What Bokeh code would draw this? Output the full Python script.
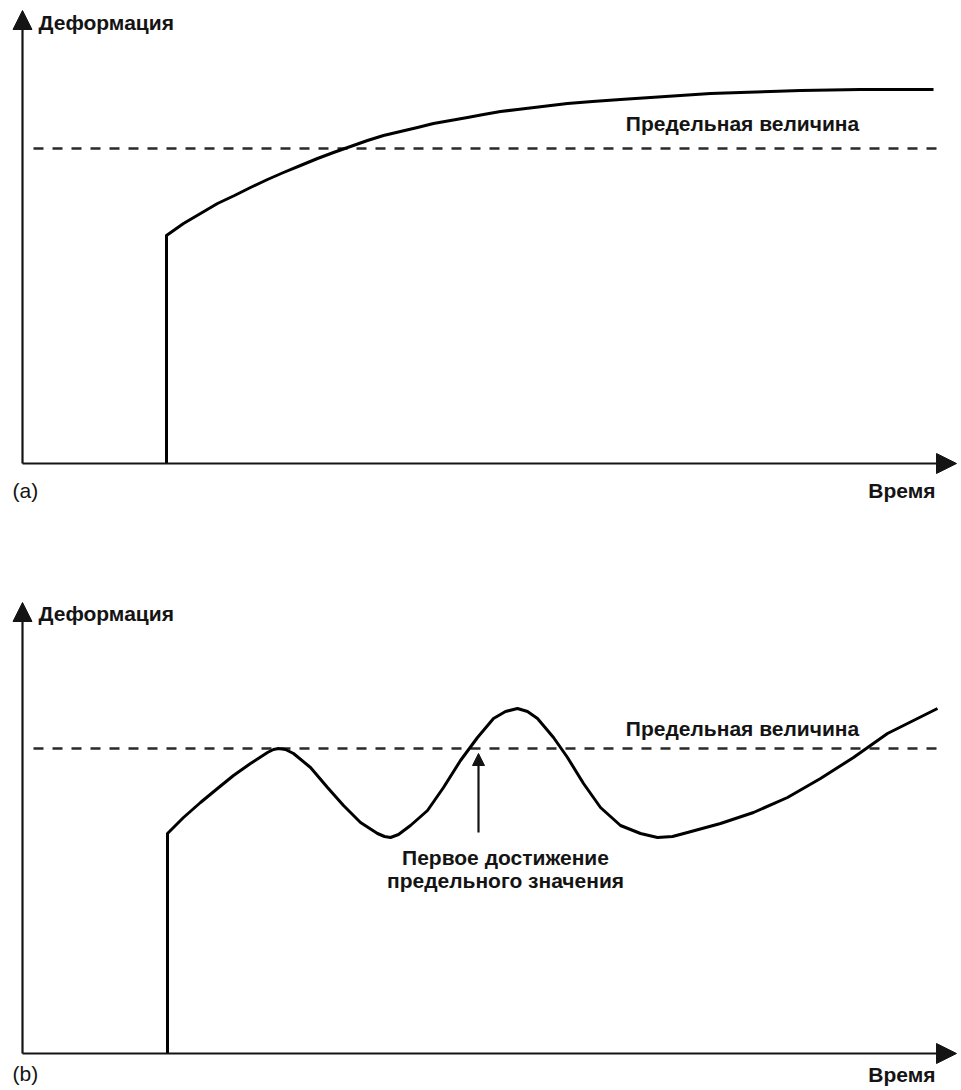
from bokeh.plotting import figure
from bokeh.layouts import column
from bokeh.models import Range1d, Arrow, NormalHead
from bokeh.core.properties import value
from bokeh.embed import file_html
from bokeh.resources import INLINE

# ---------------- data (time / deformation, arbitrary units) ----------------
# Panel (a): creep curve approaching a plateau
time_a = [144, 144, 161, 178, 195, 212, 228, 245, 261, 278, 295, 311, 328, 345,
          361, 378, 395, 411, 428, 445, 461, 478, 495, 520, 545, 570, 598, 628,
          658, 688, 718, 748, 778, 808, 838, 875, 911]
deform_a = [0, 228, 240, 250, 260, 268, 276, 284, 291, 298, 305, 311, 317, 323,
            328, 332, 336, 340, 343, 346, 349, 352, 354, 357, 360, 362, 364, 366,
            368, 370, 371, 372, 373, 373.5, 374, 374, 374]
limit_a = 315

# Panel (b): oscillating curve
time_b = [145, 145, 161, 178, 195, 211, 228, 245, 251, 256, 263, 271, 288, 305,
          321, 338, 355, 362, 368, 376, 388, 405, 421, 438, 455, 471, 483, 495,
          505, 515, 531, 545, 561, 578, 598, 618, 635, 650, 665, 698, 731, 765,
          798, 831, 865, 915]
deform_b = [0, 220, 236, 251, 265, 278, 290, 301, 304, 305, 304, 300, 286, 266,
            248, 231, 220, 217, 216, 219, 228, 243, 266, 293, 316, 335, 342, 345,
            342, 335, 316, 296, 270, 246, 228, 220, 216, 217, 221, 230, 241, 256,
            275, 296, 320, 345]
limit_b = 305
first_reach_time = 456

y_label = "Деформация"
x_label = "Время"
limit_label = "Предельная величина"
first_reach_label = ["Первое достижение", "предельного значения"]
panel_tags = ["(a)", "(b)"]

FONT = value("Liberation Sans")
FS = "21px"
STYLE = "bold"
INK = "#141414"
W = 961


def make_panel(ts, ds, limit, yr, h, tag, y_tip, ylab_y, tag_y, xlab_y, limlab_y):
    p = figure(width=W, height=h, output_backend="svg", toolbar_location=None,
               x_range=Range1d(-22, 939), y_range=Range1d(*yr),
               x_axis_location=None, y_axis_location=None, min_border=0,
               background_fill_color="white", border_fill_color="white")
    p.outline_line_color = None
    p.xgrid.grid_line_color = None
    p.ygrid.grid_line_color = None

    # axes drawn as arrows
    p.add_layout(Arrow(x_start=0, y_start=0, x_end=0, y_end=y_tip,
                       line_width=2.2, line_color=INK,
                       end=NormalHead(size=19, fill_color=INK, line_color=INK)))
    p.add_layout(Arrow(x_start=0, y_start=0, x_end=934, y_end=0,
                       line_width=2.2, line_color=INK,
                       end=NormalHead(size=20, fill_color=INK, line_color=INK)))

    # limit line
    p.line([11, 915], [limit, limit], line_width=2.6, line_color="#2a2a2a",
           line_dash="10 9")
    # curve
    p.line(ts, ds, line_width=3, line_color="black", line_join="round")

    # texts
    p.text(x=[16], y=[ylab_y], text=[y_label], text_font=FONT,
           text_font_size=FS, text_font_style=STYLE, text_color=INK,
           text_baseline="middle", text_align="left")
    p.text(x=[720], y=[limlab_y], text=[limit_label], text_font=FONT,
           text_font_size=FS, text_font_style=STYLE, text_color=INK,
           text_baseline="middle", text_align="center")
    p.text(x=[-10], y=[tag_y], text=[tag], text_font=FONT, text_font_size=FS,
           text_font_style="normal", text_color=INK, text_baseline="middle",
           text_align="left")
    p.text(x=[913], y=[xlab_y], text=[x_label], text_font=FONT,
           text_font_size=FS, text_font_style=STYLE, text_color=INK,
           text_baseline="middle", text_align="right")
    return p


pa = make_panel(time_a, deform_a, limit_a, (-82, 463), 545, panel_tags[0],
                y_tip=453, ylab_y=441, tag_y=-27, xlab_y=-27, limlab_y=340)
pb = make_panel(time_b, deform_b, limit_b, (-37, 508), 545, panel_tags[1],
                y_tip=451, ylab_y=440, tag_y=-20, xlab_y=-21, limlab_y=325)

# annotation: first time the limit is reached
pb.add_layout(Arrow(x_start=first_reach_time, y_start=221,
                    x_end=first_reach_time, y_end=limit_b - 5,
                    line_width=2.2, line_color=INK,
                    end=NormalHead(size=12, fill_color=INK, line_color=INK)))
pb.text(x=[483, 483], y=[196, 173], text=first_reach_label, text_font=FONT,
        text_font_size=FS, text_font_style=STYLE, text_color=INK,
        text_baseline="middle", text_align="center")

layout = column(pa, pb, spacing=0)
open("out.html", "w").write(file_html(layout, INLINE))
